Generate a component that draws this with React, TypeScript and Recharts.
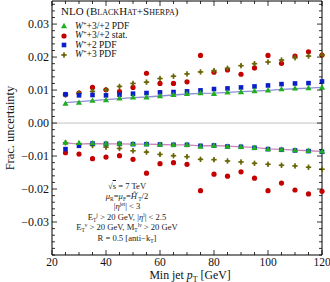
import React from 'react';
import { ComposedChart, Line, XAxis, YAxis, ReferenceLine } from 'recharts';

const ptCuts = [25, 30, 35, 40, 45, 50, 55, 60, 65, 70, 75, 80, 85, 90, 95, 100, 105, 110, 115, 120];

// W+3/+2 PDF (green triangles)
const greenUp = [0.0059, 0.0062, 0.0068, 0.007, 0.0075, 0.0078, 0.0078, 0.0082, 0.0086, 0.0089, 0.0091, 0.0089, 0.0093, 0.0094, 0.0097, 0.0099, 0.0103, 0.0105, 0.0106, 0.0108];
const greenLo = [-0.0059, -0.006, -0.0061, -0.0062, -0.0062, -0.0063, -0.0064, -0.0065, -0.0066, -0.0066, -0.0071, -0.0068, -0.0071, -0.0072, -0.0075, -0.0079, -0.008, -0.0082, -0.0084, -0.0086];
// W+3/+2 stat. (red circles)
const redUp = [0.0087, 0.0091, 0.0108, 0.0101, 0.0095, 0.0108, 0.0151, 0.012, 0.012, 0.0125, 0.0205, 0.0154, 0.0161, 0.0148, 0.0167, 0.0205, 0.0181, 0.0203, 0.0216, 0.0206];
const redLo = [-0.009, -0.0094, -0.0108, -0.0103, -0.0099, -0.011, -0.0152, -0.0123, -0.012, -0.0125, -0.0205, -0.0155, -0.0161, -0.0148, -0.0167, -0.0205, -0.0182, -0.0203, -0.0215, -0.0207];
// W+2 PDF (blue squares)
const blueUp = [0.0087, 0.0084, 0.0085, 0.0084, 0.0086, 0.0089, 0.0091, 0.0093, 0.0094, 0.0096, 0.0099, 0.0103, 0.0105, 0.0108, 0.0111, 0.0114, 0.0118, 0.012, 0.0121, 0.0126];
const blueLo = [-0.0079, -0.0069, -0.0062, -0.0063, -0.0063, -0.0064, -0.0064, -0.0065, -0.0066, -0.0066, -0.0069, -0.0068, -0.0071, -0.0072, -0.0075, -0.0079, -0.0081, -0.0083, -0.0085, -0.0087];
// W+3 PDF (olive crosses)
const oliveUp = [0.0085, 0.0091, 0.0096, 0.0101, 0.0111, 0.012, 0.0124, 0.0135, 0.0142, 0.0149, 0.0155, 0.0159, 0.0166, 0.0174, 0.018, 0.0185, 0.0191, 0.0198, 0.0203, 0.0206];
const oliveLo = [-0.006, -0.0063, -0.0068, -0.0073, -0.0077, -0.0084, -0.0088, -0.0095, -0.0099, -0.0102, -0.011, -0.0111, -0.0115, -0.0118, -0.0122, -0.0125, -0.0128, -0.013, -0.0134, -0.014];
// smooth curves through the PDF band
const fitUp = [0.0062, 0.0065, 0.0068, 0.0071, 0.0074, 0.0077, 0.0079, 0.0082, 0.0085, 0.0088, 0.009, 0.0091, 0.0093, 0.0095, 0.0097, 0.0099, 0.0102, 0.0104, 0.0106, 0.0108];
const fitLo = [-0.006, -0.0064, -0.0062, -0.0063, -0.0063, -0.0064, -0.0064, -0.0065, -0.0066, -0.0066, -0.0069, -0.0068, -0.007, -0.0072, -0.0074, -0.0078, -0.008, -0.0082, -0.0084, -0.0086];

const yMajor = [-0.03, -0.02, -0.01, 0, 0.01, 0.02, 0.03];
const xMajor = [20, 40, 60, 80, 100, 120];
const yTicks = Array.from({ length: 39 }, (_, i) => Math.round((-0.04 + i * 0.002) * 1000) / 1000);
const xTicks = Array.from({ length: 21 }, (_, i) => 20 + i * 5);

const rows = ptCuts.map((x, i) => ({
  x,
  greenUp: greenUp[i],
  greenLo: greenLo[i],
  redUp: redUp[i],
  redLo: redLo[i],
  blueUp: blueUp[i],
  blueLo: blueLo[i],
  oliveUp: oliveUp[i],
  oliveLo: oliveLo[i],
  fitUp: fitUp[i],
  fitLo: fitLo[i],
}));

const GREEN = '#1fae1f';
const RED = '#c40000';
const BLUE = '#0a1ec8';
const OLIVE = '#6a6608';
const SERIF = '"Liberation Serif", "DejaVu Serif", serif';

const isMajorY = (v: number) => yMajor.some((m) => Math.abs(m - v) < 1e-9);
const fmtY = (v: number) => (v < 0 ? '\u2212' : '') + Math.abs(v).toFixed(2);

const LeftTick = (p: any) => {
  const v = p.payload.value;
  const major = isMajorY(v);
  return (
    <g>
      <line x1={p.x} x2={p.x + (major ? 5 : 3)} y1={p.y} y2={p.y} stroke="#000" strokeWidth={0.8} />
      {major && (
        <text x={p.x - 3} y={p.y + 4} textAnchor="end" fontSize={12} fontFamily={SERIF} fill="#111">
          {fmtY(v)}
        </text>
      )}
    </g>
  );
};

const RightTick = (p: any) => {
  const major = isMajorY(p.payload.value);
  return <line x1={p.x - (major ? 5 : 3)} x2={p.x} y1={p.y} y2={p.y} stroke="#000" strokeWidth={0.8} />;
};

const BottomTick = (p: any) => {
  const v = p.payload.value;
  const major = xMajor.includes(v);
  return (
    <g>
      <line x1={p.x} x2={p.x} y1={p.y - (major ? 5 : 3)} y2={p.y} stroke="#000" strokeWidth={0.8} />
      {major && (
        <text x={p.x} y={p.y + 10.5} textAnchor="middle" fontSize={11.5} fontFamily={SERIF} fill="#111">
          {v}
        </text>
      )}
    </g>
  );
};

const TopTick = (p: any) => {
  const major = xMajor.includes(p.payload.value);
  return <line x1={p.x} x2={p.x} y1={p.y} y2={p.y + (major ? 5 : 3)} stroke="#000" strokeWidth={0.8} />;
};

const triangle = (p: any) =>
  p.cx == null ? null : (
    <polygon key={`t${p.index}`} points={`${p.cx},${p.cy - 3.2} ${p.cx - 3.1},${p.cy + 2.2} ${p.cx + 3.1},${p.cy + 2.2}`} fill={GREEN} />
  );
const circle = (p: any) => (p.cx == null ? null : <circle key={`c${p.index}`} cx={p.cx} cy={p.cy} r={2.6} fill={RED} />);
const square = (p: any) =>
  p.cx == null ? null : <rect key={`s${p.index}`} x={p.cx - 2.3} y={p.cy - 2.3} width={4.6} height={4.6} fill={BLUE} />;
const cross = (p: any) =>
  p.cx == null ? null : (
    <g key={`o${p.index}`}>
      <rect x={p.cx - 0.8} y={p.cy - 2.7} width={1.6} height={5.4} fill={OLIVE} />
      <rect x={p.cx - 2.7} y={p.cy - 0.8} width={5.4} height={1.6} fill={OLIVE} />
      <rect x={p.cx - 1.3} y={p.cy - 1.3} width={2.6} height={2.6} fill={OLIVE} transform={`rotate(45 ${p.cx} ${p.cy})`} />
    </g>
  );

const markerSeries = [
  { dot: circle, name: 'red' },
  { dot: cross, name: 'olive' },
  { dot: square, name: 'blue' },
  { dot: triangle, name: 'green' },
];

const legendItems = [
  { label: '3/+2 PDF', color: GREEN, shape: 'tri' },
  { label: '3/+2 stat.', color: RED, shape: 'circ' },
  { label: '2 PDF', color: BLUE, shape: 'sq' },
  { label: '3 PDF', color: OLIVE, shape: 'cross' },
];

const LegendMark = ({ shape, color }: { shape: string; color: string }) => (
  <svg width={8} height={8} style={{ position: 'absolute', left: 0, top: 1.5 }}>
    {shape === 'tri' && <polygon points="4,0.8 1,6.2 7,6.2" fill={color} />}
    {shape === 'circ' && <circle cx={4} cy={4} r={2.6} fill={color} />}
    {shape === 'sq' && <rect x={1.7} y={1.7} width={4.6} height={4.6} fill={color} />}
    {shape === 'cross' && (
      <g>
        <rect x={3.2} y={1.3} width={1.6} height={5.4} fill={color} />
        <rect x={1.3} y={3.2} width={5.4} height={1.6} fill={color} />
        <rect x={2.7} y={2.7} width={2.6} height={2.6} fill={color} transform="rotate(45 4 4)" />
      </g>
    )}
  </svg>
);

// raised / lowered small text that does not stretch the line box
const Sub = ({ children }: { children: React.ReactNode }) => (
  <span style={{ fontSize: 5.5, position: 'relative', top: 2 }}>{children}</span>
);
const Sup = ({ children }: { children: React.ReactNode }) => (
  <span style={{ fontSize: 5.5, position: 'relative', top: -3 }}>{children}</span>
);

export default function App() {
  return (
    <div style={{ position: 'absolute', left: 0, top: 0, width: 330, height: 282, background: '#fff', fontFamily: SERIF, overflow: 'hidden' }}>
      <ComposedChart width={330} height={282} data={rows} margin={{ top: 0, right: 0, bottom: 0, left: 0 }}>
        <XAxis
          xAxisId="b"
          dataKey="x"
          type="number"
          domain={[20, 120]}
          ticks={xTicks}
          interval={0}
          height={27}
          tickSize={0}
          tickMargin={0}
          tickLine={false}
          stroke="#000"
          tick={BottomTick}
        />
        <XAxis
          xAxisId="t"
          orientation="top"
          dataKey="x"
          type="number"
          domain={[20, 120]}
          ticks={xTicks}
          interval={0}
          height={1}
          tickSize={0}
          tickMargin={0}
          tickLine={false}
          stroke="#000"
          tick={TopTick}
        />
        <YAxis
          yAxisId="l"
          type="number"
          domain={[-0.04, 0.037]}
          allowDataOverflow
          ticks={yTicks}
          interval={0}
          width={52}
          tickSize={0}
          tickMargin={0}
          tickLine={false}
          stroke="#000"
          tick={LeftTick}
        />
        <YAxis
          yAxisId="r"
          orientation="right"
          type="number"
          domain={[-0.04, 0.037]}
          allowDataOverflow
          ticks={yTicks}
          interval={0}
          width={8}
          tickSize={0}
          tickMargin={0}
          tickLine={false}
          stroke="#000"
          tick={RightTick}
        />
        <ReferenceLine xAxisId="b" yAxisId="l" y={0} stroke="#c4c4c4" strokeWidth={1} />
        <Line xAxisId="b" yAxisId="l" dataKey="fitUp" stroke="#8d8fd6" strokeWidth={1.3} dot={false} activeDot={false} isAnimationActive={false} />
        <Line xAxisId="b" yAxisId="l" dataKey="fitLo" stroke="#c886b8" strokeWidth={1.3} dot={false} activeDot={false} isAnimationActive={false} />
        {markerSeries.flatMap((s) =>
          ['Up', 'Lo'].map((side) => (
            <Line
              key={s.name + side}
              xAxisId="b"
              yAxisId="l"
              dataKey={s.name + side}
              stroke="none"
              dot={s.dot}
              activeDot={false}
              isAnimationActive={false}
            />
          ))
        )}
      </ComposedChart>

      <div style={{ position: 'absolute', left: 61, top: 5, fontSize: 11, lineHeight: '13px', whiteSpace: 'nowrap', color: '#111' }}>
        NLO (<span style={{ fontVariant: 'small-caps' }}>BlackHat+Sherpa</span>)
      </div>
      {legendItems.map((it, i) => (
        <div key={it.label} style={{ position: 'absolute', left: 60, top: 20.5 + i * 9.5, height: 10, paddingLeft: 15, fontSize: 9.5, lineHeight: '10px', whiteSpace: 'nowrap', color: '#111' }}>
          <LegendMark shape={it.shape} color={it.color} />
          <i>W</i>
          <span style={{ fontSize: 6.5, position: 'relative', top: -3 }}>+</span>+{it.label}
        </div>
      ))}

      <div style={{ position: 'absolute', left: 67, top: 182, width: 120, textAlign: 'center', fontSize: 8.6, lineHeight: '9.6px', color: '#222', whiteSpace: 'nowrap' }}>
        <div>√<span style={{ textDecoration: 'overline' }}>s</span> = 7 TeV</div>
        <div>
          <i>μ</i><Sub>R</Sub>=<i>μ</i><Sub>F</Sub>=<i>Ĥ</i><Sup>′</Sup><Sub>T</Sub>/2
        </div>
        <div>|<i>η</i><Sup>jet</Sup>| &lt; 3</div>
        <div>
          E<Sub>T</Sub><Sup>j</Sup> &gt; 20 GeV, |<i>η</i><Sup>l</Sup>| &lt; 2.5
        </div>
        <div>
          E<Sub>T</Sub><Sup>ν</Sup> &gt; 20 GeV, M<Sub>T</Sub><Sup>lν</Sup> &gt; 20 GeV
        </div>
        <div>R = 0.5 [anti−k<Sub>T</Sub>]</div>
      </div>

      <div style={{ position: 'absolute', left: 10, top: 128, transform: 'translate(-50%, -50%) rotate(-90deg)', fontSize: 12.5, whiteSpace: 'nowrap', color: '#111' }}>
        Frac. uncertainty
      </div>
      <div style={{ position: 'absolute', left: 190, top: 275.5, transform: 'translate(-50%, -50%)', fontSize: 11.8, lineHeight: '12px', whiteSpace: 'nowrap', color: '#111' }}>
        Min jet <i>p</i><span style={{ fontSize: 8, position: 'relative', top: 3 }}>T</span> [GeV]
      </div>
    </div>
  );
}
